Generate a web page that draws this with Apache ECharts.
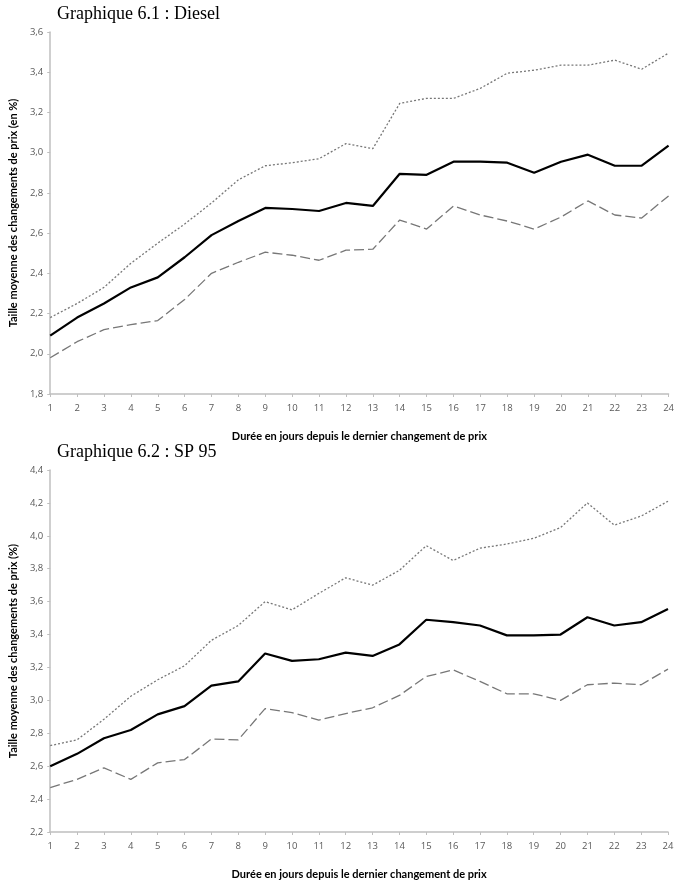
<!DOCTYPE html>
<html>
<head>
<meta charset="utf-8">
<script src="https://cdn.jsdelivr.net/npm/echarts@6/dist/echarts.min.js"></script>
<style>
html,body{margin:0;padding:0;background:#fff;}
#c{width:677px;height:881px;}
</style>
</head>
<body>
<div id="c"></div>
<script>
var days = ['1','2','3','4','5','6','7','8','9','10','11','12','13','14','15','16','17','18','19','20','21','22','23','24'];

var dieselMean  = [2.09,2.18,2.25,2.33,2.38,2.48,2.59,2.66,2.725,2.72,2.71,2.75,2.735,2.895,2.89,2.955,2.955,2.95,2.90,2.955,2.99,2.935,2.935,3.035];
var dieselUpper = [2.18,2.25,2.33,2.45,2.55,2.645,2.75,2.865,2.935,2.95,2.97,3.045,3.02,3.245,3.27,3.27,3.32,3.395,3.41,3.435,3.435,3.46,3.415,3.495];
var dieselLower = [1.98,2.06,2.12,2.145,2.165,2.27,2.40,2.455,2.505,2.49,2.465,2.515,2.52,2.665,2.62,2.735,2.69,2.66,2.62,2.68,2.76,2.69,2.675,2.785];

var sp95Mean  = [2.60,2.675,2.77,2.82,2.915,2.965,3.09,3.115,3.285,3.24,3.25,3.29,3.27,3.34,3.49,3.475,3.455,3.395,3.395,3.40,3.505,3.455,3.475,3.555];
var sp95Upper = [2.725,2.76,2.885,3.025,3.125,3.21,3.365,3.455,3.60,3.55,3.65,3.745,3.70,3.79,3.94,3.85,3.925,3.95,3.985,4.05,4.20,4.065,4.12,4.21];
var sp95Lower = [2.47,2.52,2.59,2.52,2.62,2.64,2.765,2.76,2.95,2.925,2.88,2.92,2.955,3.03,3.145,3.185,3.115,3.04,3.04,3.00,3.095,3.105,3.095,3.19];

var titles = ['Graphique 6.1 : Diesel', 'Graphique 6.2 : SP 95'];
var yNames = ['Taille moyenne des changements de prix (en %)', 'Taille moyenne des changements de prix (%)'];
var xName = 'Durée en jours depuis le dernier changement de prix';

var chart = echarts.init(document.getElementById('c'), null, {renderer:'canvas'});
var axisColor = '#bfbfbf';
var labelColor = '#595959';
var sansBold = 'Lato';

function fmt(v){ return v.toFixed(1).replace('.', ','); }

function xAxis(gi){
  return {
    gridIndex: gi, type:'category', data: days, boundaryGap:false,
    axisLine:{show:true, lineStyle:{color:axisColor, width:1.5}},
    axisTick:{show:true, length:3, lineStyle:{color:axisColor}},
    axisLabel:{color:labelColor, fontSize:9.5, fontFamily:'Open Sans', margin:9},
    name: xName, nameLocation:'middle', nameGap:37,
    nameTextStyle:{fontFamily:sansBold, fontWeight:'bold', fontSize:11, color:'#000'}
  };
}
function yAxis(gi, min, max){
  return {
    gridIndex: gi, type:'value', min:min, max:max, interval:0.2,
    axisLine:{show:true, lineStyle:{color:axisColor, width:1.5}},
    axisTick:{show:true, length:3, lineStyle:{color:axisColor}},
    splitLine:{show:false},
    axisLabel:{color:labelColor, fontSize:9.5, fontFamily:'Open Sans', margin:7, formatter:fmt},
    name: yNames[gi], nameLocation:'middle', nameGap:gi === 0 ? 31 : 28,
    nameTextStyle:{fontFamily:sansBold, fontWeight:'bold', fontSize:11, color:'#000'}
  };
}
function series(gi, mean, upper, lower){
  return [
    {type:'line', xAxisIndex:gi, yAxisIndex:gi, data:upper, symbol:'none', silent:true,
     lineStyle:{color:'#777777', width:1.3, type:[2,2]}},
    {type:'line', xAxisIndex:gi, yAxisIndex:gi, data:lower, symbol:'none', silent:true,
     lineStyle:{color:'#777777', width:1.3, type:[10,4]}},
    {type:'line', xAxisIndex:gi, yAxisIndex:gi, data:mean, symbol:'none', silent:true,
     lineStyle:{color:'#000', width:2.2}}
  ];
}

chart.setOption({
  animation:false,
  backgroundColor:'#fff',
  title:[
    {text:titles[0], left:52, top:0, textStyle:{fontFamily:'Liberation Serif', fontWeight:'normal', fontSize:18, color:'#000'}},
    {text:titles[1], left:52, top:438, textStyle:{fontFamily:'Liberation Serif', fontWeight:'normal', fontSize:18, color:'#000'}}
  ],
  grid:[
    {left:42, right:7, top:32, height:362},
    {left:39, right:9, top:470, height:368}
  ],
  xAxis:[xAxis(0), xAxis(1)],
  yAxis:[yAxis(0, 1.8, 3.6), yAxis(1, 2.2, 4.4)],
  series: series(0, dieselMean, dieselUpper, dieselLower).concat(series(1, sp95Mean, sp95Upper, sp95Lower))
});
</script>
</body>
</html>
